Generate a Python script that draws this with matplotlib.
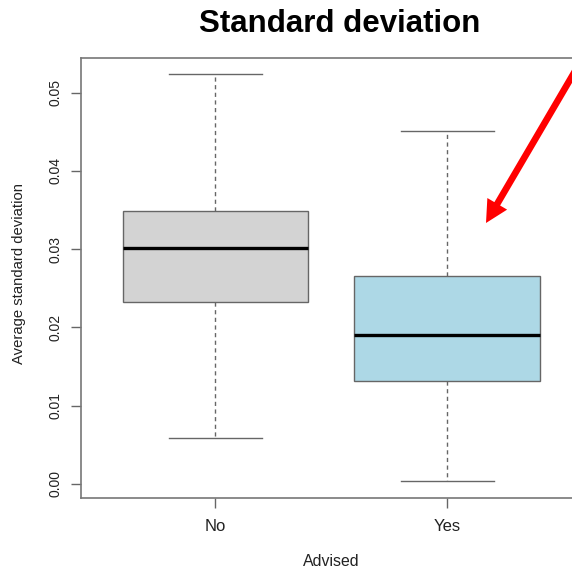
import matplotlib
matplotlib.use("Agg")
import matplotlib.pyplot as plt

plt.rcParams['font.family'] = ['Liberation Sans', 'DejaVu Sans']

# five-number summaries per group
groups = ["No", "Yes"]
whislo = [0.00584, 0.00035]
q1 = [0.02329, 0.01312]
med = [0.03016, 0.01908]
q3 = [0.03492, 0.02658]
whishi = [0.05235, 0.04514]
box_colors = ["#d3d3d3", "#add8e6"]

W, H = 572, 568
fig = plt.figure(figsize=(W / 100, H / 100), dpi=100)
# plot region runs a little past the right edge of the figure
ax = fig.add_axes([81 / W, (H - 498) / H, 500.6 / W, 440 / H])

stats = []
for i in range(len(groups)):
    stats.append(dict(label=groups[i], whislo=whislo[i], q1=q1[i], med=med[i],
                      q3=q3[i], whishi=whishi[i], fliers=[]))

edge = "#666666"
bp = ax.bxp(stats, positions=[1, 2], widths=0.8, capwidths=0.4, patch_artist=True,
            boxprops=dict(edgecolor=edge, linewidth=1.0),
            medianprops=dict(color="black", linewidth=2.4, solid_capstyle="butt"),
            whiskerprops=dict(color=edge, linewidth=1.0, linestyle=(0, (3, 2.5))),
            capprops=dict(color=edge, linewidth=1.0))
for patch, c in zip(bp["boxes"], box_colors):
    patch.set_facecolor(c)

ax.set_xlim(0.42, 2.58)
ax.set_ylim(-0.00179, 0.05443)
ax.set_yticks([0.00, 0.01, 0.02, 0.03, 0.04, 0.05])
ax.set_yticklabels(["0.00", "0.01", "0.02", "0.03", "0.04", "0.05"],
                   rotation=90, va="center")
ax.set_xticks([1, 2])
ax.set_xticklabels(groups)
ax.tick_params(axis="y", length=7, width=1, color=edge, pad=6, labelsize=10,
               labelcolor="#222222")
ax.tick_params(axis="x", length=7, width=1, color=edge, pad=8, labelsize=12,
               labelcolor="#222222")
for s in ax.spines.values():
    s.set_color("#777777")
    s.set_linewidth(1.2)

fig.text(19 / W, (H - 273) / H, "Average standard deviation", rotation=90,
         ha="center", va="center", fontsize=10.7, color="#222222")
fig.text(331 / W, (H - 561) / H, "Advised", ha="center", va="center",
         fontsize=11.4, color="#222222")
fig.text(340 / W, (H - 32) / H, "Standard deviation", ha="center", va="baseline",
         fontsize=22.5, fontweight="bold")

# red pointer arrow
ax.annotate("", xy=(486, H - 223), xycoords="figure pixels",
            xytext=(615, H - 3), textcoords="figure pixels",
            annotation_clip=False,
            arrowprops=dict(arrowstyle="simple,head_length=1.6,head_width=1.65,tail_width=0.48",
                            mutation_scale=10, color="red", lw=0,
                            shrinkA=0, shrinkB=0))

fig.savefig("out.png", dpi=100)
